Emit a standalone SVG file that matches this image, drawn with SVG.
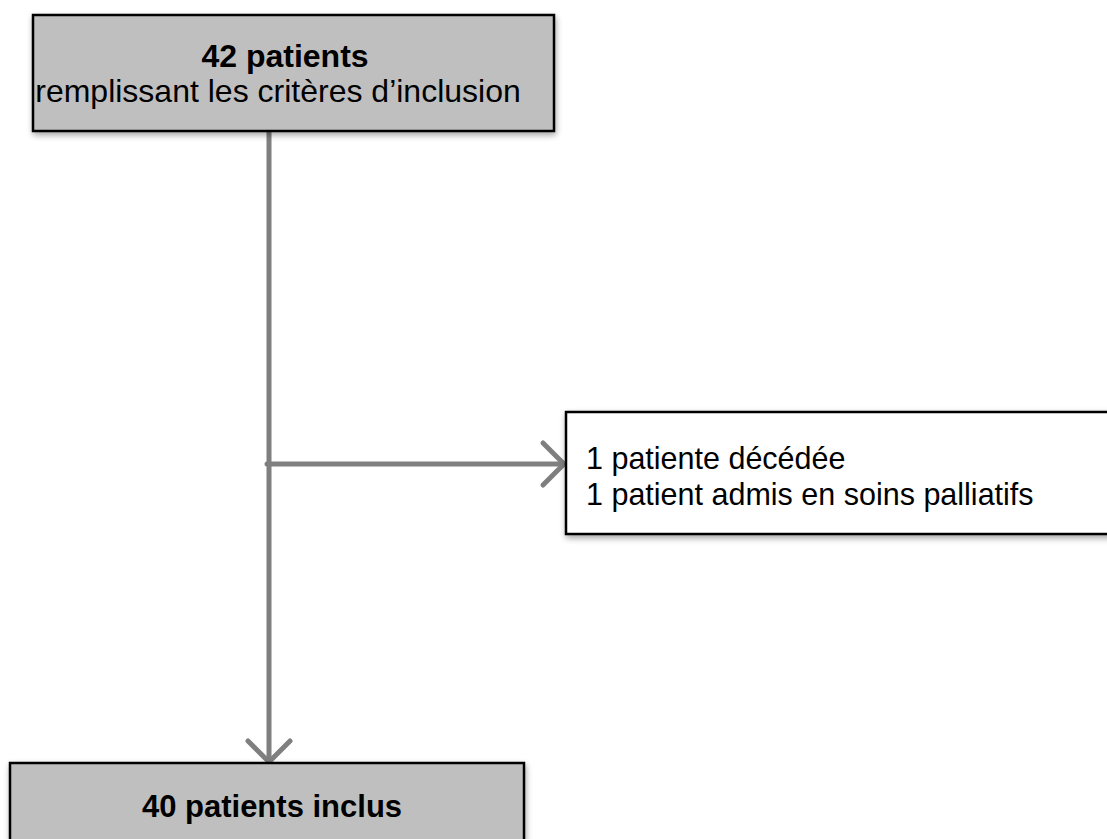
<svg xmlns="http://www.w3.org/2000/svg" width="1107" height="839" viewBox="0 0 1107 839">
<defs>
<style>
.box{stroke:#000;stroke-width:2.5}
.grey{fill:#bfbfbf}
.white{fill:#fff}
.t{font-family:"Liberation Sans",Arial,sans-serif;font-size:31px;fill:#000}
.big{font-size:32px}
.b{font-weight:bold}
.conn{stroke:#7f7f7f;stroke-width:5;fill:none;stroke-linecap:round;stroke-linejoin:round}
</style>
<filter id="sh" x="-10%" y="-10%" width="120%" height="130%">
<feGaussianBlur in="SourceAlpha" stdDeviation="3"/>
<feOffset dx="1" dy="3" result="o"/>
<feComponentTransfer><feFuncA type="linear" slope="0.35"/></feComponentTransfer>
<feMerge><feMergeNode/><feMergeNode in="SourceGraphic"/></feMerge>
</filter>
</defs>
<rect width="1107" height="839" fill="#fff"/>
<g id="connectors">
<line class="conn" x1="269" y1="131" x2="269" y2="760"/>
<polyline class="conn" points="248,741 269,762 290,741"/>
<line class="conn" x1="267" y1="464" x2="563" y2="464"/>
<polyline class="conn" points="543,443 564,464 543,485"/>
</g>
<g id="top">
<rect class="box grey" x="33" y="15" width="521" height="116" filter="url(#sh)"/>
<text class="t big b" x="285" y="67" text-anchor="middle">42 patients</text>
<text class="t big" x="278" y="102" text-anchor="middle">remplissant les critères d’inclusion</text>
</g>
<g id="excluded">
<rect class="box white" x="566" y="412" width="560" height="122" filter="url(#sh)"/>
<text class="t" x="586" y="469" style="font-size:30.5px">1 patiente décédée</text>
<text class="t" x="586" y="505" style="font-size:30.5px">1 patient admis en soins palliatifs</text>
</g>
<g id="bottom">
<rect class="box grey" x="10" y="763" width="514" height="100" filter="url(#sh)"/>
<text class="t b" x="272" y="817" text-anchor="middle">40 patients inclus</text>
</g>
</svg>
